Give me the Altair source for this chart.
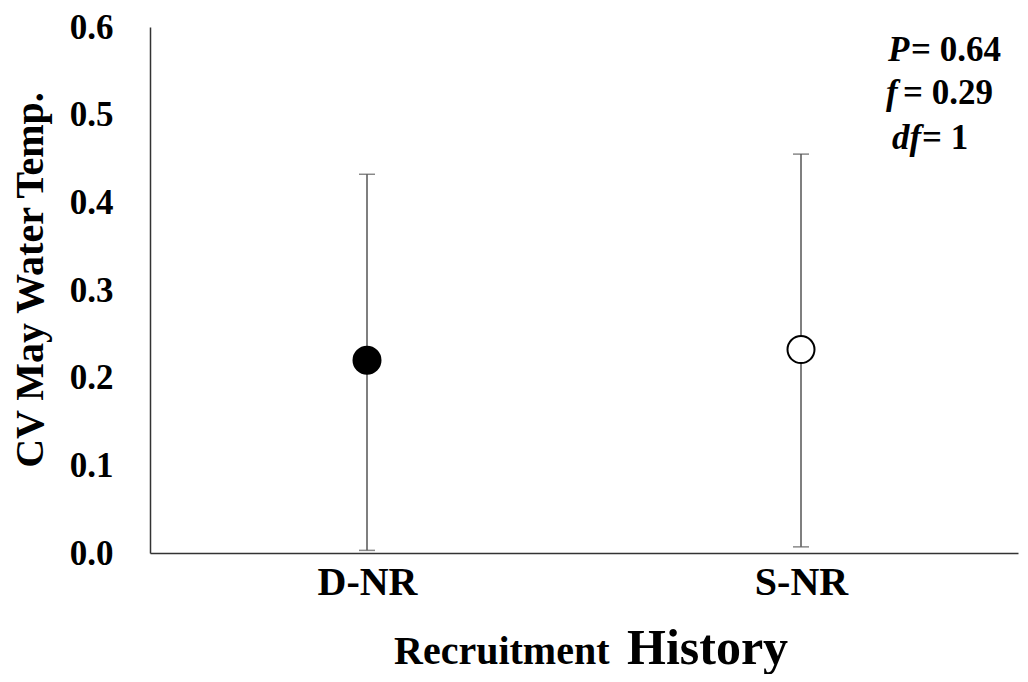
import altair as alt
import pandas as pd

groups = ["D-NR", "S-NR"]
means = [0.220, 0.232]
lower = [0.003, 0.007]
upper = [0.432, 0.455]
fill_colors = ["black", "white"]
y_ticks = [0.0, 0.1, 0.2, 0.3, 0.4, 0.5, 0.6]

stat_labels = ["P", "f", "df"]
stat_values = ["= 0.64", "= 0.29", "= 1"]

df = pd.DataFrame({"group": groups, "mean": means, "lower": lower, "upper": upper})

FONT = "Liberation Serif"

x_enc = alt.X(
    "group:N",
    sort=groups,
    scale=alt.Scale(type="point", padding=0.5),
    axis=alt.Axis(title=None, labelAngle=0, ticks=False, labelFontSize=40,
                  labelFontWeight="bold", labelFont=FONT, labelColor="black",
                  labelPadding=9, domainColor="#333", domainWidth=1.5, grid=False),
)
y_scale = alt.Scale(domain=[0, 0.6], nice=False, zero=True)
y_axis = alt.Axis(title=None, values=y_ticks, format=".1f", ticks=False, grid=False,
                  labelFontSize=35, labelFontWeight="bold", labelFont=FONT,
                  labelColor="black", labelPadding=37, domainColor="#333", domainWidth=1.5)

base = alt.Chart(df)

rules = base.mark_rule(color="#555", strokeWidth=1.5).encode(
    x=x_enc, y=alt.Y("lower:Q", scale=y_scale, axis=y_axis), y2="upper:Q")
cap_hi = base.mark_tick(color="#555", thickness=1.5, size=16).encode(
    x=x_enc, y=alt.Y("upper:Q", scale=y_scale, axis=y_axis))
cap_lo = base.mark_tick(color="#555", thickness=1.5, size=16).encode(
    x=x_enc, y=alt.Y("lower:Q", scale=y_scale, axis=y_axis))
points = base.mark_circle(size=729, stroke="black", strokeWidth=2, opacity=1).encode(
    x=x_enc,
    y=alt.Y("mean:Q", scale=y_scale, axis=y_axis),
    fill=alt.Fill("group:N", scale=alt.Scale(domain=groups, range=fill_colors), legend=None),
)


def txt(s, x, y, size, italic=False, align="left", angle=0, baseline="alphabetic"):
    kw = dict(fontSize=size, fontWeight="bold", font=FONT, color="black",
              align=align, baseline=baseline)
    if italic:
        kw["fontStyle"] = "italic"
    if angle:
        kw["angle"] = angle
    return alt.Chart(pd.DataFrame({"t": [s]})).mark_text(**kw).encode(
        text="t:N", x=alt.value(x), y=alt.value(y))


# plot origin on page is (150, 27)
ox, oy = 150, 27
lbl_x = [888, 886, 892]
eq_x = [911, 903, 922]
base_y = [61, 104, 149]
annots = []
for i in range(3):
    annots.append(txt(stat_labels[i], lbl_x[i] - ox, base_y[i] - oy, 35, italic=True))
    annots.append(txt(stat_values[i], eq_x[i] - ox, base_y[i] - oy, 35))

ytitle = txt("CV May Water Temp.", 31 - ox, 280 - oy, 40, align="center", angle=270,
             baseline="middle")
xt1 = txt("Recruitment", 394 - ox, 664 - oy, 40)
xt2 = txt("History", 627 - ox, 664 - oy, 50)

chart = alt.layer(rules, cap_hi, cap_lo, points, ytitle, xt1, xt2, *annots).properties(
    width=868, height=526,
    autosize=alt.AutoSizeParams(type="none"),
    padding={"left": 142, "top": 19, "right": 2, "bottom": 121},
    background="white",
).configure_view(stroke=None)

chart.save("out.html", embed_options={"renderer": "svg", "actions": False})
